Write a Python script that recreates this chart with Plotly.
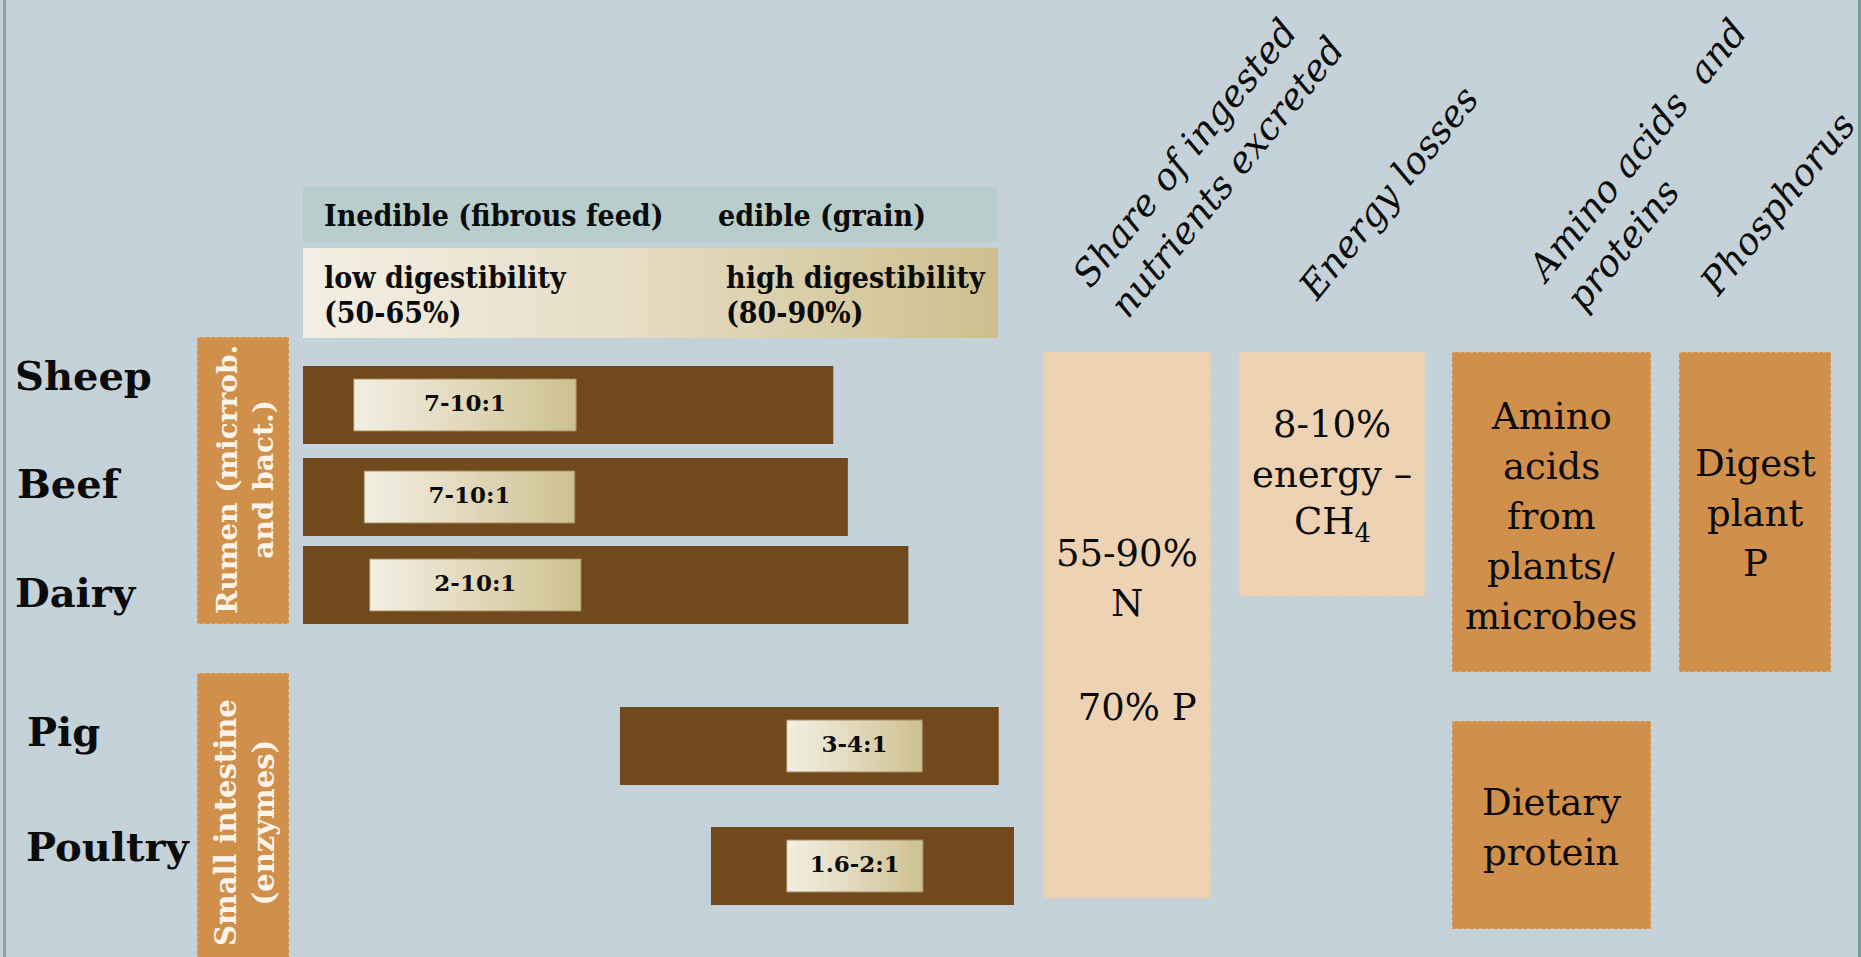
import plotly.graph_objects as go

# ---------------- data ----------------
animals = ["Sheep", "Beef", "Dairy", "Pig", "Poultry"]
# diet extent of each species along the feed spectrum
# (0 = inedible fibrous feed, 100 = edible grain)
diet_start = [0, 0, 0, 45.6, 58.7]
diet_end = [76.3, 78.4, 87.1, 100.1, 102.3]
# feed-to-food conversion window on the same spectrum
ratio_start = [7.3, 8.8, 9.6, 69.6, 69.6]
ratio_end = [39.3, 39.1, 40.0, 89.1, 89.2]
ratio_labels = ["7-10:1", "7-10:1", "2-10:1", "3-4:1", "1.6-2:1"]

digestion_sites = ["Rumen (micrrob.<br>and bact.)", "Small intestine<br>(enzymes)"]
feed_types = ["Inedible (fibrous feed)", "edible (grain)"]
digestibility = [["low digestibility", "(50-65%)"],
                 ["high digestibility", "(80-90%)"]]

column_titles = ["Share of ingested<br>nutrients excreted",
                 "Energy losses",
                 "Amino acids\u00a0\u00a0and<br>proteins",
                 "Phosphorus"]
excreted_lines = ["55-90%", "N"]
excreted_p = "\u00a070% P"
energy_lines = ["8-10%", "energy \u2013", "CH<sub>4</sub>"]
amino_lines = ["Amino", "acids", "from", "plants/", "microbes"]
dietary_lines = ["Dietary", "protein"]
phosphorus_lines = ["Digest", "plant", "P"]

# ---------------- layout constants ----------------
W, H = 1861, 957
SPEC_PX0, SPEC_PX1 = 303, 998          # pixel span of the 0..100 feed spectrum
units_per_px = 100 / (SPEC_PX1 - SPEC_PX0)
spec_range = [-SPEC_PX0 * units_per_px, (W - SPEC_PX0) * units_per_px]

row_y = [405, 497, 585, 746, 866]
BAR_H = 78
BOX_H = 52
LINE_GAP = 50

BG = "#c5d2d9"
BROWN = "#70491d"
TEAL = "#b8cecc"
ORANGE = "#d08f4a"
PEACH = "#edd3b4"
INK = "#0b0b0b"
EDGE = "#d9cdb8"

SERIF = "DejaVu Serif"
SERIF_C = "DejaVu Serif Condensed, DejaVu Serif"

fig = go.Figure()

# header: digestibility gradient band across the feed spectrum
fig.add_trace(go.Scatter(
    x=[0, 100, 100, 0, 0], y=[248, 248, 338, 338, 248],
    xaxis="x2", yaxis="y", mode="lines", fill="toself",
    line=dict(width=0, color="rgba(0,0,0,0)"),
    fillgradient=dict(type="horizontal",
                      colorscale=[[0, "#f3efe4"], [0.45, "#e7dec6"], [1, "#cdbf8e"]]),
    hoverinfo="skip", showlegend=False))

# diet extent bars
fig.add_trace(go.Bar(
    orientation="h", y=row_y, base=diet_start,
    x=[e - s for s, e in zip(diet_start, diet_end)],
    width=BAR_H, marker=dict(color=BROWN, line=dict(width=0)),
    xaxis="x2", yaxis="y", hoverinfo="skip", showlegend=False))

# conversion ratio boxes inside the bars
for s, e, yc in zip(ratio_start, ratio_end, row_y):
    y0, y1 = yc - BOX_H / 2, yc + BOX_H / 2
    fig.add_trace(go.Scatter(
        x=[s, e, e, s, s], y=[y0, y0, y1, y1, y0],
        xaxis="x2", yaxis="y", mode="lines", fill="toself",
        line=dict(width=1, color="#a88a5c"),
        fillgradient=dict(type="horizontal",
                          colorscale=[[0, "#f2efe3"], [0.5, "#e2d8bb"], [1, "#cdc18f"]]),
        hoverinfo="skip", showlegend=False))

fig.add_trace(go.Scatter(
    x=[(s + e) / 2 for s, e in zip(ratio_start, ratio_end)], y=row_y,
    text=ratio_labels, mode="text", xaxis="x2", yaxis="y",
    textfont=dict(family=SERIF, size=23, color=INK, weight="bold"),
    hoverinfo="skip", showlegend=False))

shapes = []


def rect(x0, y0, x1, y1, fill, xref="x", edge=None, dash="dot"):
    shapes.append(dict(
        type="rect", xref=xref, yref="y", x0=x0, x1=x1, y0=y0, y1=y1,
        fillcolor=fill, layer="below",
        line=dict(width=1 if edge else 0, color=edge or fill, dash=dash)))


# feed type header band
rect(0, 187, 100, 242, TEAL, xref="x2")

# digestion site boxes
rect(197, 337, 289, 624, ORANGE, edge=EDGE)
rect(197, 673, 289, 975, ORANGE, edge=EDGE)

# outcome columns
rect(1043, 352, 1211, 898, PEACH, edge=EDGE)
rect(1239, 352, 1425, 596, PEACH, edge=EDGE)
rect(1452, 352, 1651, 672, ORANGE, edge=EDGE)
rect(1679, 352, 1831, 672, ORANGE, edge=EDGE)
rect(1452, 721, 1651, 929, ORANGE, edge=EDGE)

# frame edges
shapes.append(dict(type="line", xref="x", yref="y", x0=4.5, x1=4.5, y0=0, y1=H,
                   line=dict(color="#8ea3a6", width=3)))
shapes.append(dict(type="line", xref="x", yref="y", x0=1859.5, x1=1859.5, y0=0, y1=H,
                   line=dict(color="#7f999b", width=3)))

annotations = []


def note(x, y, text, size, family=SERIF, color=INK, weight="normal",
         xanchor="center", angle=0, align="center"):
    annotations.append(dict(
        x=x, y=y, xref="x", yref="y", text=text, showarrow=False,
        font=dict(family=family, size=size, color=color, weight=weight),
        xanchor=xanchor, yanchor="middle", textangle=angle, align=align))


def stack(x, y_center, lines, size=37):
    """Centred block of lines with a fixed line pitch."""
    n = len(lines)
    for i, line in enumerate(lines):
        note(x, y_center + (i - (n - 1) / 2) * LINE_GAP, line, size)


# animal labels
label_pos = [(13, 375), (15, 483), (13, 592), (25, 731), (24, 846)]
for name, (lx, ly) in zip(animals, label_pos):
    note(lx, ly, name, 40, weight="bold", xanchor="left")

# digestion site labels (rotated)
note(245, 480, digestion_sites[0], 28, color="#fbf4ea", weight="bold", angle=-90)
note(245, 823, digestion_sites[1], 29, color="#fbf4ea", weight="bold", angle=-90)

# feed spectrum headers
note(322, 215, feed_types[0], 30, family=SERIF_C, weight="bold", xanchor="left")
note(716, 215, feed_types[1], 30, family=SERIF_C, weight="bold", xanchor="left")
for (line1, line2), lx in zip(digestibility, [322, 724]):
    note(lx, 277, line1, 30, family=SERIF_C, weight="bold", xanchor="left")
    note(lx, 312, line2, 30, family=SERIF_C, weight="bold", xanchor="left")

# slanted column titles
title_pos = [(1208, 162), (1388, 193), (1655, 166), (1777, 204)]
for t, (tx, ty) in zip(column_titles, title_pos):
    note(tx, ty, "<i>" + t + "</i>", 37, angle=-51, align="left")

# column contents
stack(1127, 578, excreted_lines)
note(1131, 707, excreted_p, 37)
stack(1332, 474, energy_lines)
stack(1551, 516, amino_lines)
stack(1551, 827, dietary_lines)
stack(1755, 513, phosphorus_lines)

fig.update_layout(
    width=W, height=H, margin=dict(l=0, r=0, t=0, b=0),
    paper_bgcolor=BG, plot_bgcolor=BG, showlegend=False,
    xaxis=dict(range=[0, W], visible=False, fixedrange=True),
    xaxis2=dict(range=spec_range, overlaying="x", visible=False, fixedrange=True),
    yaxis=dict(range=[H, 0], visible=False, fixedrange=True),
    shapes=shapes, annotations=annotations, barmode="overlay",
)

fig.write_html("out.html", config={"displayModeBar": False})
